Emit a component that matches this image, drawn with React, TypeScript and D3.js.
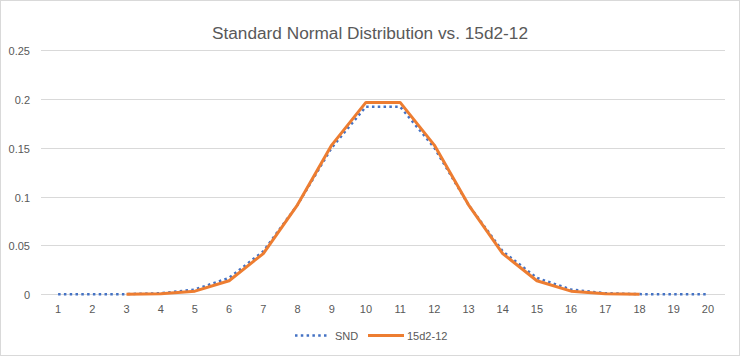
import React from "react";
import * as d3 from "d3";

const categories = ["1","2","3","4","5","6","7","8","9","10","11","12","13","14","15","16","17","18","19","20"];
const sndValues = [0.0000025, 0.000024, 0.00018, 0.0011, 0.0049, 0.0168, 0.0440, 0.0915, 0.1500, 0.1920, 0.1920, 0.1500, 0.0915, 0.0440, 0.0168, 0.0049, 0.0011, 0.00018, 0.000024, 0.0000025];
const diceValues: (number | null)[] = [null, null, 0.00003, 0.00046, 0.0032, 0.0139, 0.0417, 0.0916, 0.1527, 0.1964, 0.1964, 0.1527, 0.0916, 0.0417, 0.0139, 0.0032, 0.00046, 0.00003, null, null];
const yTicks = [0, 0.05, 0.1, 0.15, 0.2, 0.25];
const yTickLabels = ["0", "0.05", "0.1", "0.15", "0.2", "0.25"];
const seriesNames = ["SND", "15d2-12"];
const title = "Standard Normal Distribution vs. 15d2-12";

const W = 740, H = 356;
const FONT = "'Liberation Sans', Arial, sans-serif";
const TEXT = "#595959";

export default function App() {
  const x = d3.scalePoint<string>().domain(categories).range([41, 725]).padding(0.5);
  const y = d3.scaleLinear().domain([0, 0.25]).range([294.3, 50]);

  const line = d3.line<number | null>()
    .defined((d) => d != null)
    .x((_, i) => x(categories[i]) as number)
    .y((d) => y(d as number));

  return (
    <svg width={W} height={H} style={{ position: "fixed", left: 0, top: 0 }} fontFamily={FONT}>
      <rect x={0.5} y={0.5} width={W - 1} height={H - 1} fill="#fff" stroke="#d9d9d9" />
      <text x={370} y={39} textAnchor="middle" fontSize={16} fill={TEXT} textLength={316} lengthAdjust="spacingAndGlyphs">{title}</text>
      {yTicks.map((t, i) => {
        const yy = Math.round(y(t)) + 0.5;
        return (
          <g key={t}>
            <line x1={41} x2={725} y1={yy} y2={yy} stroke="#d9d9d9" strokeWidth={1} />
            <text x={30} y={yy + 4} textAnchor="end" fontSize={11} fill={TEXT}>{yTickLabels[i]}</text>
          </g>
        );
      })}
      {categories.map((c) => (
        <text key={c} x={x(c)} y={313} textAnchor="middle" fontSize={11} fill={TEXT}>{c}</text>
      ))}
      <path d={line(sndValues) || ""} fill="none" stroke="#4472C4" strokeWidth={2.5} strokeDasharray="2.5,3.3" />
      <path d={line(diceValues) || ""} fill="none" stroke="#ED7D31" strokeWidth={3} strokeLinejoin="round" />
      <g>
        <line x1={295} x2={328} y1={335.5} y2={335.5} stroke="#4472C4" strokeWidth={2.5} strokeDasharray="2.5,3.3" />
        <text x={335} y={339.5} fontSize={11} fill={TEXT}>{seriesNames[0]}</text>
        <line x1={368} x2={404} y1={335.5} y2={335.5} stroke="#ED7D31" strokeWidth={3} />
        <text x={407} y={339.5} fontSize={11} fill={TEXT}>{seriesNames[1]}</text>
      </g>
    </svg>
  );
}
